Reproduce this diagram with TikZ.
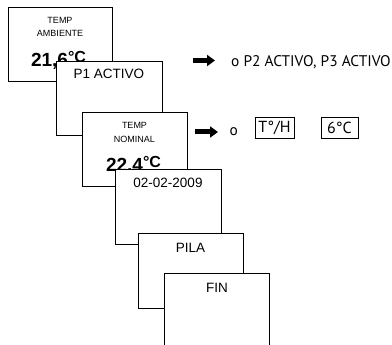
\documentclass[tikz,border=0pt]{standalone}
\usepackage{fontspec}
\setmainfont{Liberation Sans}
\newfontfamily\rtfont{PT Sans}
\usetikzlibrary{arrows.meta}
\begin{document}
\begin{tikzpicture}[x=1pt,y=-1pt,
  screen/.style={draw=black, line width=0.8pt, fill=white},
  small/.style={font=\fontsize{9}{10}\selectfont, inner sep=0pt},
  mid/.style={font=\fontsize{13.5}{14}\selectfont, inner sep=0pt},
  big/.style={font=\fontsize{19}{19}\selectfont\bfseries, inner sep=0pt, anchor=base},
  rtext/.style={font=\rtfont\fontsize{15.4}{16}\selectfont, inner sep=0pt, anchor=base west},
  keybox/.style={draw=black, line width=0.7pt, font=\rtfont\fontsize{16}{16}\selectfont, inner sep=0pt, minimum height=21pt},
  fatarrow/.style={line width=5pt, -{Triangle[length=8pt,width=11pt]}}]
\newcommand{\degc}{\raisebox{0.42ex}{\fontsize{16}{16}\selectfont°C}}
\useasboundingbox (0,0) rectangle (392,345);
\clip (0,0) rectangle (392,345);
% Box 1
\draw[screen] (8,7) rectangle (112,81);
\node[small] (t1a) at (60,20.5) {TEMP};
\node[small] (t1b) at (60,33) {AMBIENTE};
\node[big] (t1c) at (58.5,67) {21,6\degc};
% Box 2
\draw[screen] (56,61) rectangle (162,135);
\node[mid] (t2) at (109,74) {P1 ACTIVO};
% Box 3
\draw[screen] (82,112) rectangle (187,186);
\node[small] (t3a) at (134.5,125.5) {TEMP};
\node[small] (t3b) at (134.5,139) {NOMINAL};
\node[big] (t3c) at (133.5,172) {22,4\degc};
% Box 4
\draw[screen] (115,169) rectangle (221,244);
\node[mid] (t4) at (168,183) {02-02-2009};
% Box 5
\draw[screen] (138,233) rectangle (243,308);
\node[mid] (t5) at (190.5,248) {PILA};
% Box 6
\draw[screen] (164,273) rectangle (269,352);
\node[mid] (t6) at (217,288) {FIN};
% Right side
\coordinate (a1s) at (193,60.5);
\coordinate (a1e) at (215,60.5);
\draw[fatarrow] (a1s) -- (a1e);
\node[rtext] (r1) at (231,66.7) {o P2 ACTIVO, P3 ACTIVO};
\coordinate (a2s) at (195,132);
\coordinate (a2e) at (218,132);
\draw[fatarrow] (a2s) -- (a2e);
\node[rtext] (r2) at (229.5,135.5) {o};
\node[keybox, minimum width=39pt] (k1) at (274.5,127.5) {T°/H};
\node[keybox, minimum width=37pt] (k2) at (339.5,127.5) {6°C};
\end{tikzpicture}
\end{document}
